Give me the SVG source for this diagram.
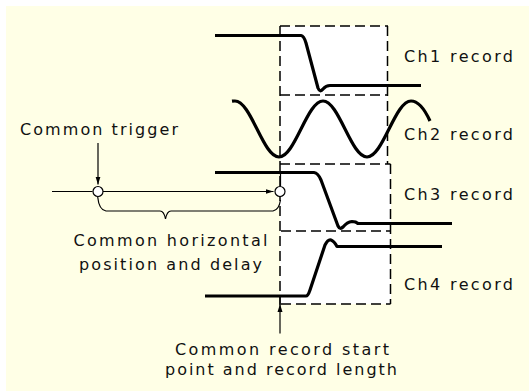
<svg xmlns="http://www.w3.org/2000/svg" width="529" height="391" viewBox="0 0 529 391">
<style>
.bg{fill:#ffffe6}
.box{fill:#ffffff;stroke:none}
.dash{stroke:#000;stroke-width:1.5;stroke-dasharray:10 5;fill:none}
.sig{fill:none;stroke:#000;stroke-width:3.2;stroke-linejoin:round;stroke-linecap:butt}
.thin{fill:none;stroke:#000;stroke-width:1.2}
.node{fill:#fff;stroke:#000;stroke-width:1.2}
.lbl{font-family:"DejaVu Sans",Verdana,sans-serif;font-size:16px;fill:#111}
</style>
<defs>
<marker id="ah" viewBox="0 0 8 6" refX="8" refY="3" markerWidth="8" markerHeight="6" markerUnits="userSpaceOnUse" orient="auto">
<path d="M0,0.5 L8,3 L0,5.5 Z" fill="#000"/>
</marker>
</defs>
<rect class="bg" x="6" y="6" width="523" height="385"/>

<g id="records">
<rect class="box" x="280" y="26" width="108" height="278"/>
<rect class="box" x="388" y="164" width="3" height="140"/>
<line class="dash" x1="280" y1="26" x2="388" y2="26"/>
<line class="dash" x1="280" y1="95" x2="388" y2="95"/>
<line class="dash" x1="280" y1="164" x2="390.5" y2="164"/>
<line class="dash" x1="281" y1="231" x2="390.5" y2="231"/>
<line class="dash" x1="281" y1="304" x2="390.5" y2="304"/>
<line class="dash" x1="280" y1="26" x2="280" y2="304"/>
<line class="dash" x1="387.5" y1="26" x2="387.5" y2="164"/>
<line class="dash" x1="390.5" y1="164" x2="390.5" y2="304"/>
</g>

<g id="ch1">
<path class="sig" d="M215,35.5 L301,35.5 Q304,36 306,43 L318,88 Q320,93 323,89 Q326,85.5 330,85.5 L421,85.5"/>
<text class="lbl" x="404" y="62" textLength="109" lengthAdjust="spacing">Ch1 record</text>
</g>
<g id="ch2">
<path class="sig" d="M232,101.2 Q233.5,101 235,101 C251,101 263,157 279,157 C295,157 307,101 323,101 C339,101 351,157 367,157 C383,157 395,101 411,101 C418,101 425,110 430,121"/>
<text class="lbl" x="404" y="139.5" textLength="109" lengthAdjust="spacing">Ch2 record</text>
</g>
<g id="ch3">
<path class="sig" d="M215,172.5 L314,172.5 Q318,173 321,180 L338,226 Q340,230 343,227 Q347,222 352,221.5 Q356,221.5 358,223.5 L452,223.5"/>
<text class="lbl" x="404" y="199.5" textLength="109" lengthAdjust="spacing">Ch3 record</text>
</g>
<g id="ch4">
<path class="sig" d="M205,296 L306,296 Q308,296 310,290 L325,245 Q328,239 331,240 Q334,241 337,246.5 L442,246.5"/>
<text class="lbl" x="404" y="289.5" textLength="109" lengthAdjust="spacing">Ch4 record</text>
</g>

<g id="connectors">
<line class="thin" x1="98" y1="143" x2="98" y2="184.5" marker-end="url(#ah)"/>
<line class="thin" x1="52" y1="191.5" x2="92.5" y2="191.5"/>
<line class="thin" x1="103" y1="191.5" x2="273.5" y2="191.5" marker-end="url(#ah)"/>
<line class="thin" x1="280.5" y1="172" x2="280.5" y2="186"/>
<path class="thin" d="M97.7,197 Q99,210 106,211 L160,211 Q164,211 165.5,219 Q167,211 171,211 L273,211 Q279,210 280.5,200"/>
<line class="thin" x1="280" y1="296" x2="280" y2="305"/>
<line class="thin" x1="280" y1="333.5" x2="280" y2="304" marker-end="url(#ah)"/>
</g>

<g id="trigger">
<circle class="node" cx="98" cy="191.5" r="5"/>
<text class="lbl" x="20" y="135" textLength="158" lengthAdjust="spacing">Common trigger</text>
</g>
<g id="record-start">
<circle class="node" cx="280" cy="191.5" r="5"/>
</g>
<g id="horizontal-label">
<text class="lbl" x="73.5" y="245.5" textLength="194" lengthAdjust="spacing">Common horizontal</text>
<text class="lbl" x="79" y="269.5" textLength="183" lengthAdjust="spacing">position and delay</text>
</g>
<g id="record-label">
<text class="lbl" x="175" y="354.5" textLength="214" lengthAdjust="spacing">Common record start</text>
<text class="lbl" x="165" y="375" textLength="232" lengthAdjust="spacing">point and record length</text>
</g>
</svg>
